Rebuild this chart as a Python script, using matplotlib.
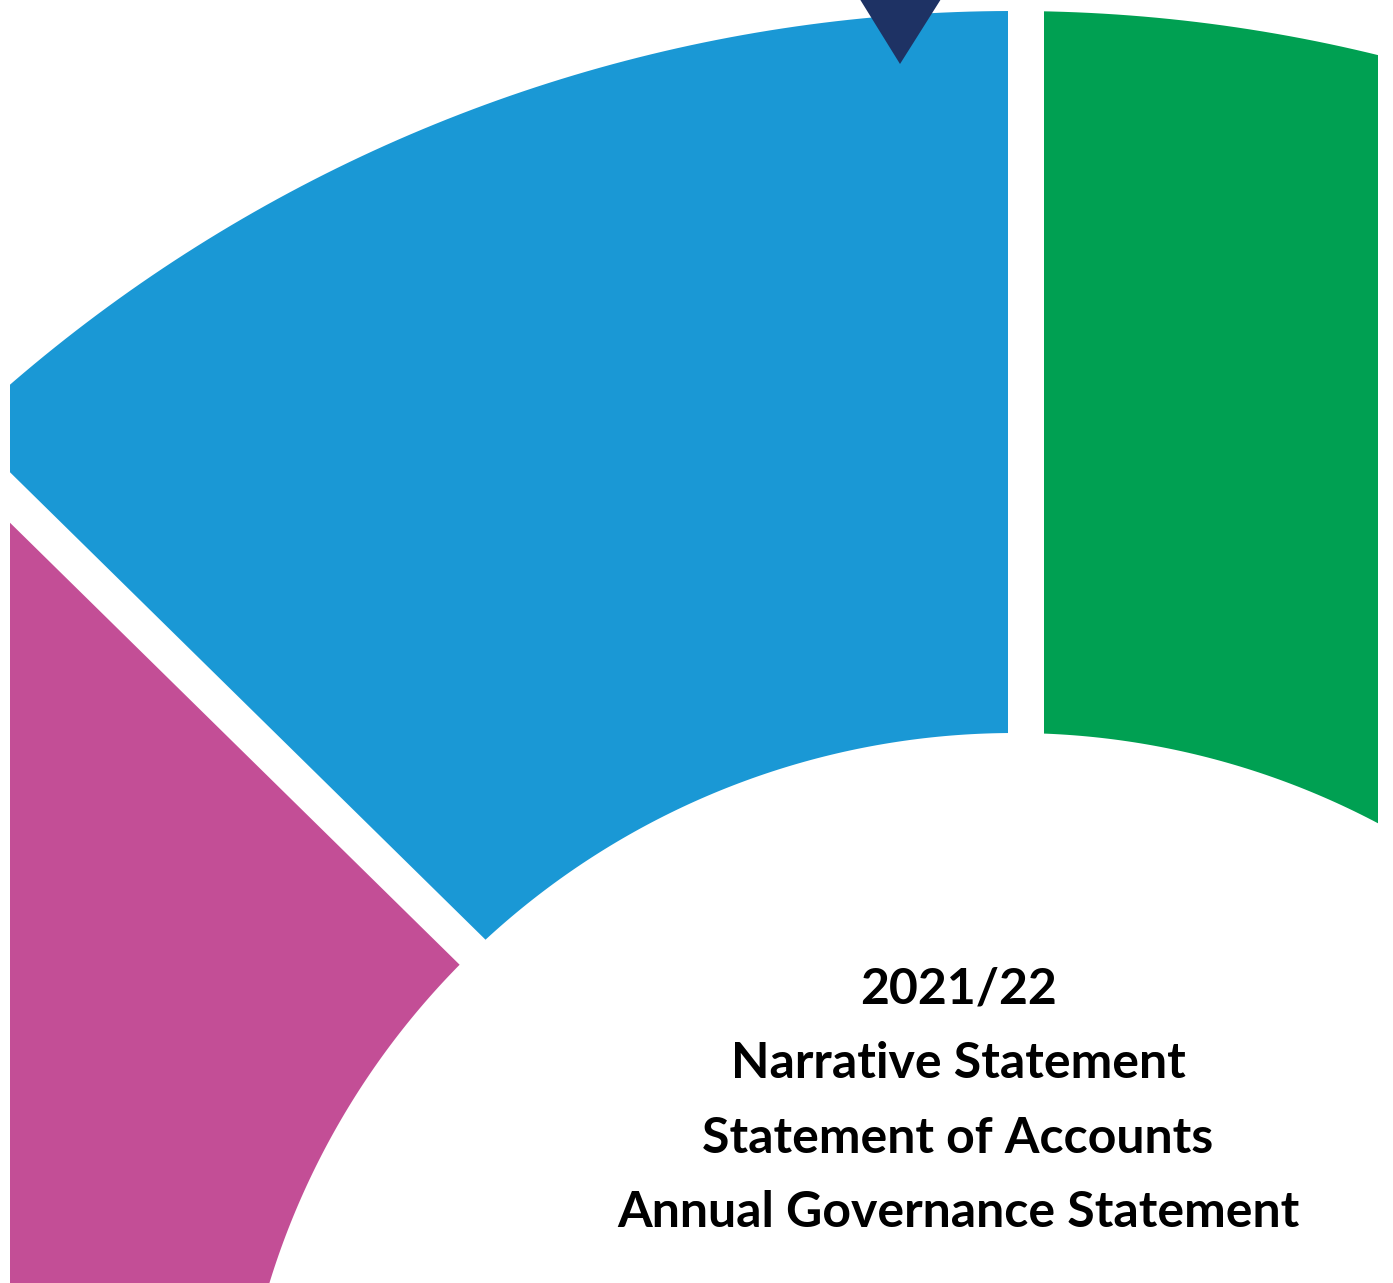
import numpy as np
import matplotlib.pyplot as plt
from matplotlib.patches import Polygon, PathPatch, Rectangle
from matplotlib.path import Path

# page size in pixels (drawn 1:1 at dpi 100)
W, H = 1393, 1283

# ring geometry (pixel coordinates, y downwards)
outer_center = (1013, 1544)
outer_radius = 1533
inner_center = (1014, 1512)
inner_radius = 779

# segments and their colours
segments = ["Green", "Blue", "Magenta"]
segment_colors = ["#00a052", "#1a98d5", "#c34e96"]
marker_color = "#1e3264"

# gaps between segments
gap_width = 36
vertical_gap_x = 1026
diag_gap_point = (10, 497.5)
diag_gap_slope = 0.983

title_lines = [
    "2021/22",
    "Narrative Statement",
    "Statement of Accounts",
    "Annual Governance Statement",
]
title_baselines = [1003, 1078, 1153, 1227]
title_x = 958


def circle_pts(center, r, reverse=False, n=720):
    t = np.linspace(0, 2 * np.pi, n)
    if reverse:
        t = t[::-1]
    return np.column_stack([center[0] + r * np.cos(t), center[1] + r * np.sin(t)])


def diag_y(x):
    return diag_gap_point[1] + diag_gap_slope * (x - diag_gap_point[0])


fig = plt.figure(figsize=(W / 100, H / 100), dpi=100)
ax = fig.add_axes([0, 0, 1, 1])
ax.set_xlim(0, W)
ax.set_ylim(H, 0)
ax.axis("off")

# ring as a compound path (outer circle minus inner circle)
outer = circle_pts(outer_center, outer_radius)
inner = circle_pts(inner_center, inner_radius, reverse=True)
verts = np.vstack([outer, inner])
codes = np.full(len(verts), Path.LINETO)
codes[0] = Path.MOVETO
codes[len(outer)] = Path.MOVETO
ring = PathPatch(Path(verts, codes), facecolor="none", edgecolor="none")
ax.add_patch(ring)

big = 4000
regions = [
    [(vertical_gap_x, -big), (big, -big), (big, big), (vertical_gap_x, big)],
    [(-big, -big), (vertical_gap_x, -big), (vertical_gap_x, diag_y(vertical_gap_x)),
     (-big, diag_y(-big))],
    [(-big, diag_y(-big)), (vertical_gap_x, diag_y(vertical_gap_x)),
     (vertical_gap_x, big), (-big, big)],
]
for reg, col in zip(regions, segment_colors):
    p = Polygon(reg, closed=True, facecolor=col, edgecolor="none")
    ax.add_patch(p)
    p.set_clip_path(ring)

# white gaps
ax.add_patch(Rectangle((vertical_gap_x - gap_width / 2, -100), gap_width, 1700,
                       facecolor="white", edgecolor="none"))
ang = np.arctan(diag_gap_slope)
nx, ny = -np.sin(ang) * gap_width / 2, np.cos(ang) * gap_width / 2
x0, x1 = -100, vertical_gap_x
band = [(x0 + nx, diag_y(x0) + ny), (x1 + nx, diag_y(x1) + ny),
        (x1 - nx, diag_y(x1) - ny), (x0 - nx, diag_y(x0) - ny)]
ax.add_patch(Polygon(band, closed=True, facecolor="white", edgecolor="none"))

# page margins
ax.add_patch(Rectangle((-10, -10), 20, H + 20, facecolor="white", edgecolor="none"))
ax.add_patch(Rectangle((1378, -10), 100, H + 20, facecolor="white", edgecolor="none"))

# marker triangle at the top
ax.add_patch(Polygon([(848, -20), (953, -20), (900, 64)], closed=True,
                     facecolor=marker_color, edgecolor="none"))

for line, yb in zip(title_lines, title_baselines):
    ax.text(title_x, yb, line, ha="center", va="baseline", fontsize=36,
            fontweight="bold", family="Lato", color="black")

fig.savefig("out.png", dpi=100)
